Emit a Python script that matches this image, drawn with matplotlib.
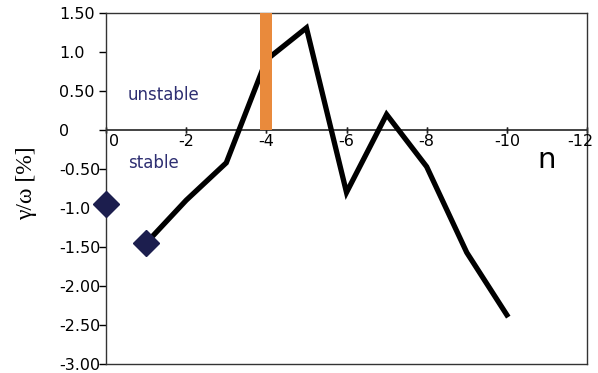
import matplotlib
matplotlib.use("Agg")
import matplotlib.pyplot as plt
import matplotlib.transforms as mtransforms

# data
n_line = [-1, -2, -3, -4, -5, -6, -7, -8, -9, -10]
g_line = [-1.45, -0.90, -0.42, 0.90, 1.31, -0.80, 0.20, -0.47, -1.57, -2.37]
n_marks = [0, -1]
g_marks = [-0.95, -1.45]
bar_n = [-4]
bar_h = [1.5]
yticks = [1.5, 1.0, 0.5, 0, -0.5, -1.0, -1.5, -2.0, -2.5, -3.0]
ytick_labels = ["1.50", "1.0", "0.50", "0", "-0.50", "-1.0", "-1.50", "-2.00", "-2.50", "-3.00"]
xticks = [0, -2, -4, -6, -8, -10, -12]
xtick_labels = ["0", "-2", "-4", "-6", "-8", "-10", "-12"]

fig = plt.figure(figsize=(5.98, 3.73), dpi=100)
ax = fig.add_axes([0.1773, 0.024, 0.8043, 0.941])
ax.set_xlim(0, -12)
ax.set_ylim(-3.0, 1.5)

ax.plot(n_line, g_line, color="black", lw=3.8, solid_joinstyle="miter", zorder=3)
ax.bar(bar_n, bar_h, width=0.3, bottom=0, color="#E98A3C", zorder=4)
ax.plot(n_marks, g_marks, linestyle="none", marker="D", ms=13,
        color="#1C1E4E", zorder=5, clip_on=False)

for s in ax.spines.values():
    s.set_linewidth(1.0)
    s.set_color("#333333")

ax.set_xticks([])
ax.set_yticks(yticks)
ax.set_yticklabels(ytick_labels)
ax.tick_params(axis="y", direction="out", length=5, width=1, labelsize=11.5, pad=29)
for lbl in ax.get_yticklabels():
    lbl.set_horizontalalignment("left")

# zero line with the n tick labels
ax.axhline(0, color="#222222", lw=1.2, zorder=2)
for xv, xl in zip(xticks, xtick_labels):
    ax.plot([xv, xv], [0, 0], marker="|", ms=5, color="#222222", mew=1, zorder=2, clip_on=False)
    if xl == xtick_labels[-1]:
        off = mtransforms.ScaledTranslation(6 / 100, -4 / 100, fig.dpi_scale_trans)
        ax.text(xv, 0, xl, fontsize=11.5, ha="right", va="top",
                transform=ax.transData + off, clip_on=False)
    elif xl == xtick_labels[0]:
        off = mtransforms.ScaledTranslation(3 / 100, -4 / 100, fig.dpi_scale_trans)
        ax.text(xv, 0, xl, fontsize=11.5, ha="left", va="top",
                transform=ax.transData + off)
    else:
        off = mtransforms.ScaledTranslation(0, -4 / 100, fig.dpi_scale_trans)
        ax.text(xv, 0, xl, fontsize=11.5, ha="center", va="top",
                transform=ax.transData + off)

ax.text(-0.55, 0.45, "unstable", color="#2E2F72", fontsize=12, ha="left", va="center")
ax.text(-0.55, -0.42, "stable", color="#2E2F72", fontsize=12, ha="left", va="center")
ax.text(-11.0, -0.38, "n", fontsize=21, ha="center", va="center")

fig.text(0.045, 0.51, "γ/ω [%]", rotation=90, fontsize=17, family="Liberation Serif",
         ha="center", va="center")

fig.savefig("out.png", dpi=100)
